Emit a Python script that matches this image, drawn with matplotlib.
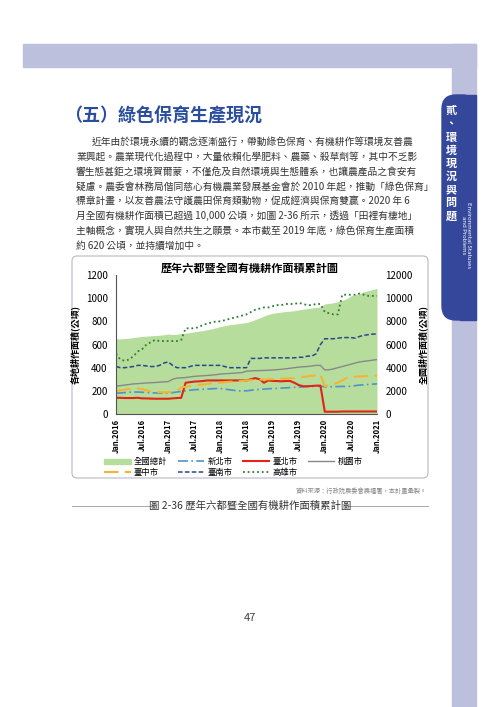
import numpy as np
import matplotlib.pyplot as plt
from matplotlib.patches import Rectangle, FancyBboxPatch

plt.rcParams['font.family'] = ['Noto Sans CJK TC', 'DejaVu Sans']

# monthly data Jan.2016 - Jan.2021
months = ['Jan.2016', 'Jul.2016', 'Jan.2017', 'Jul.2017', 'Jan.2018', 'Jul.2018',
          'Jan.2019', 'Jul.2019', 'Jan.2020', 'Jul.2020', 'Jan.2021']
national = [6500, 6480, 6520, 6550, 6600, 6650, 6700, 6720, 6750, 6780, 6800, 6850,
            6900, 6870, 6880, 6950, 6980, 7020, 7100, 7150, 7200, 7280, 7350, 7450,
            7550, 7620, 7700, 7750, 7800, 7850, 7900, 8000, 8150, 8300, 8450, 8600,
            8700, 8750, 8800, 8850, 8880, 8920, 9000, 9050, 9100, 9150, 9200, 9250,
            9500, 9550, 9600, 9700, 9800, 9950, 10200, 10300, 10400, 10550, 10650, 10750,
            10850]
kaohsiung = [520, 470, 460, 470, 500, 540, 560, 600, 620, 640, 630, 630,
             630, 630, 630, 640, 740, 740, 740, 750, 770, 780, 790, 800,
             800, 810, 820, 830, 840, 850, 860, 880, 900, 910, 920, 920,
             930, 940, 940, 950, 950, 950, 960, 950, 940, 940, 950, 950,
             880, 870, 860, 860, 1030, 1030, 1030, 1030, 1040, 1030, 1020, 1020,
             1020]
tainan = [410, 400, 400, 405, 410, 420, 420, 415, 410, 410, 420, 440,
          450, 420, 400, 400, 400, 410, 420, 420, 420, 420, 420, 420,
          420, 410, 400, 400, 400, 400, 400, 480, 480, 480, 485, 485,
          485, 485, 485, 485, 485, 485, 490, 490, 500, 500, 520, 600,
          650, 650, 650, 655, 660, 660, 660, 655, 670, 680, 685, 690,
          690]
taoyuan = [240, 245, 250, 255, 260, 262, 265, 268, 270, 272, 275, 278,
           280, 300, 310, 312, 315, 320, 325, 328, 330, 333, 336, 340,
           345, 348, 350, 352, 355, 358, 370, 372, 374, 375, 376, 378,
           380, 383, 386, 390, 395, 400, 405, 408, 410, 415, 420, 420,
           380, 382, 390, 400, 410, 420, 430, 440, 450, 455, 460, 465,
           470]
taipei = [140, 140, 138, 138, 138, 140, 135, 135, 133, 132, 132, 132,
          132, 135, 138, 140, 270, 275, 280, 282, 285, 290, 290, 290,
          290, 290, 290, 290, 290, 290, 290, 300, 310, 300, 270, 290,
          285, 285, 282, 285, 285, 270, 250, 240, 240, 242, 245, 245,
          20, 20, 20, 20, 22, 22, 22, 22, 22, 22, 22, 22,
          22]
taichung = [200, 205, 210, 215, 218, 220, 215, 205, 195, 190, 188, 188,
            188, 190, 200, 230, 235, 240, 245, 250, 255, 260, 265, 268,
            270, 275, 278, 280, 283, 285, 290, 292, 295, 296, 298, 300,
            300, 302, 305, 307, 308, 310, 315, 320, 325, 330, 335, 340,
            240, 250, 260, 270, 290, 310, 320, 322, 325, 327, 328, 330,
            330]
newtaipei = [180, 182, 185, 188, 190, 190, 188, 185, 183, 182, 180, 180,
             180, 185, 190, 195, 200, 205, 210, 212, 214, 216, 218, 220,
             220, 215, 210, 205, 200, 200, 200, 205, 210, 212, 215, 218,
             220, 222, 224, 226, 228, 230, 232, 234, 236, 238, 240, 240,
             235, 235, 236, 237, 238, 238, 240, 245, 250, 252, 255, 258,
             260]

body = ['近年由於環境永續的觀念逐漸盛行，帶動綠色保育、有機耕作等環境友善農',
        '業興起。農業現代化過程中，大量依賴化學肥料、農藥、殺草劑等，其中不乏影',
        '響生態甚鉅之環境賀爾蒙，不僅危及自然環境與生態體系，也讓農產品之食安有',
        '疑慮。農委會林務局偕同慈心有機農業發展基金會於 2010 年起，推動「綠色保育」',
        '標章計畫，以友善農法守護農田保育類動物，促成經濟與保育雙贏。2020 年 6',
        '月全國有機耕作面積已超過 10,000 公頃，如圖 2-36 所示，透過「田裡有棲地」',
        '主軸概念，實現人與自然共生之願景。本市截至 2019 年底，綠色保育生產面積',
        '約 620 公頃，並持續增加中。']

fig = plt.figure(figsize=(5, 7.07), dpi=100)
bg = fig.add_axes([0, 0, 1, 1])
bg.set_xlim(0, 500)
bg.set_ylim(707, 0)
bg.axis('off')

lav = '#bcc0dc'
bg.add_patch(Rectangle((23, 44), 453, 23, color=lav))
bg.add_patch(Rectangle((452, 44), 24, 663, color=lav))
bg.add_patch(FancyBboxPatch((442, 95), 34, 225, boxstyle='round,pad=0,rounding_size=14',
                            color='#34479a'))
bg.add_patch(Rectangle((460, 95), 16, 225, color='#34479a'))
bg.text(451, 104, '貳\n、\n環\n境\n現\n況\n與\n問\n題', color='white', fontsize=8,
        fontweight='bold', ha='center', va='top', linespacing=1.02)
bg.text(466, 235, 'Environmental Statuses\nand Problems', color='white', fontsize=4.3,
        rotation=-90, ha='center', va='center', linespacing=1.0)

bg.text(64, 116, '（五）綠色保育生產現況', color='#2b4d9e', fontsize=13,
        fontweight='bold', va='center', ha='left')
for i, line in enumerate(body):
    x0 = 92 if i == 0 else 76
    bg.text(x0, 142 + i * 14.8, line, fontsize=7.0, color='#333333', va='center')

bg.add_patch(FancyBboxPatch((72, 256), 356, 222, boxstyle='round,pad=0,rounding_size=5',
                            fill=False, ec='#b8b8c8', lw=0.8))
bg.text(250, 268, '歷年六都暨全國有機耕作面積累計圖', fontsize=8, fontweight='bold',
        ha='center', va='center')
bg.text(427, 491, '資料來源：行政院農委會農糧署，本計畫彙製。', fontsize=4.5,
        color='#888888', ha='right', va='center')
bg.text(250, 506, '圖 2-36 歷年六都暨全國有機耕作面積累計圖', fontsize=7.5,
        color='#333333', ha='center', va='center')
bg.plot([72, 152], [506, 506], color='#999999', lw=0.6)
bg.plot([348, 428], [506, 506], color='#999999', lw=0.6)
bg.text(250, 618, '47', fontsize=8, color='#444444', ha='center', va='center')

# chart
x = np.arange(len(national))
ax = fig.add_axes([0.232, 0.4144, 0.522, 0.1966])
ax2 = ax.twinx()
ax2.fill_between(x, national, color='#b7dd9c', lw=0)
ax2.set_ylim(0, 12000)
ax.set_zorder(ax2.get_zorder() + 1)
ax.patch.set_visible(False)

h_nt, = ax.plot(x, newtaipei, color='#4f93cb', lw=1.2, ls=(0, (6, 2, 1, 2)))
h_tp, = ax.plot(x, taipei, color='#e2231a', lw=1.5)
h_ty, = ax.plot(x, taoyuan, color='#888888', lw=1.0)
h_tc, = ax.plot(x, taichung, color='#f3b531', lw=1.5, ls=(0, (7, 3)))
h_tn, = ax.plot(x, tainan, color='#27498a', lw=1.1, ls=(0, (3, 1.5)))
h_ks, = ax.plot(x, kaohsiung, color='#2e7d32', lw=1.3, ls=(0, (1, 1.6)))
ax.set_ylim(0, 1200)
ax.set_xlim(0, 60)
ax.set_yticks(range(0, 1201, 200))
ax2.set_yticks(range(0, 12001, 2000))
ax.set_xticks(x[::6])
ax.set_xticklabels(months, rotation=90, fontsize=5.5, fontweight='bold')
ax.tick_params(axis='y', labelsize=7, length=0, pad=6)
ax2.tick_params(axis='y', labelsize=7, length=0, pad=6)
ax.tick_params(axis='x', length=0)
for a in (ax, ax2):
    for s in a.spines.values():
        s.set_visible(False)
ax.spines['left'].set_visible(True)
ax.spines['bottom'].set_visible(True)
ax.spines['left'].set_color('#555555')
ax.spines['bottom'].set_color('#555555')
ax.set_ylabel('各地耕作面積(公頃)', fontsize=6.5, fontweight='bold')
ax2.set_ylabel('全國耕作面積(公頃)', fontsize=6.5, fontweight='bold')

h_nat = Rectangle((0, 0), 1, 1, color='#b7dd9c')
handles = [h_nat, h_tc, h_nt, h_tn, h_tp, h_ks, h_ty]
labels = ['全國總計', '臺中市', '新北市', '臺南市', '臺北市', '高雄市', '桃園市']
ax.legend(handles, labels, ncol=4, loc='upper center', bbox_to_anchor=(0.45, -0.27),
          frameon=False, fontsize=6, handlelength=3.2, columnspacing=1.2,
          labelspacing=0.15, handletextpad=0.4, borderpad=0.2)

fig.savefig('out.png', dpi=100)
